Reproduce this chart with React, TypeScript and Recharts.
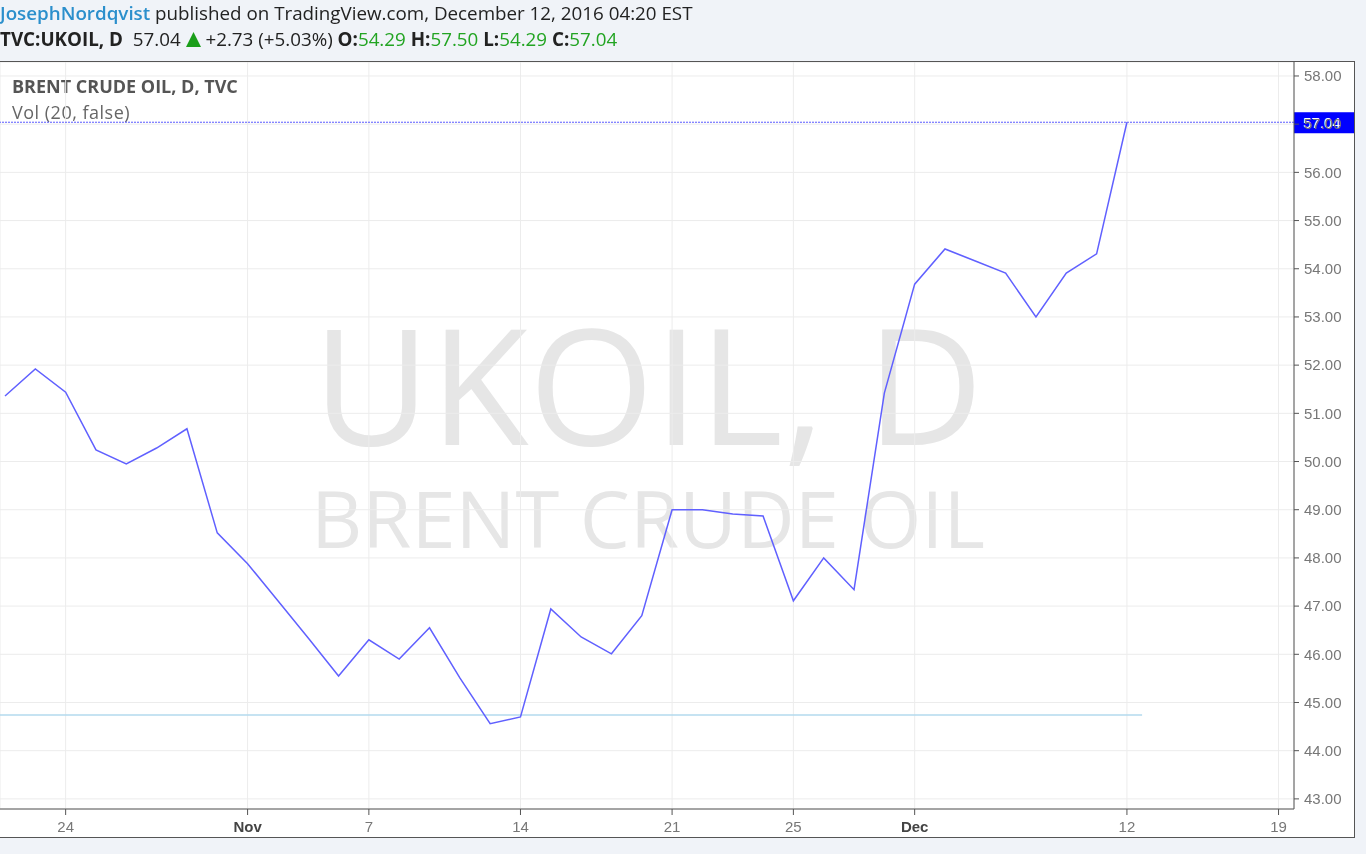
import { LineChart, Line, XAxis, YAxis, CartesianGrid, ReferenceLine } from "recharts";

// trading sessions shown on the axis (last five are empty future days)
const sessions = [
  "Oct 20", "Oct 21", "Oct 24", "Oct 25", "Oct 26", "Oct 27", "Oct 28", "Oct 31",
  "Nov 1", "Nov 2", "Nov 3", "Nov 4", "Nov 7", "Nov 8", "Nov 9", "Nov 10", "Nov 11",
  "Nov 14", "Nov 15", "Nov 16", "Nov 17", "Nov 18", "Nov 21", "Nov 22", "Nov 23", "Nov 24", "Nov 25",
  "Nov 28", "Nov 29", "Nov 30", "Dec 1", "Dec 2", "Dec 5", "Dec 6", "Dec 7", "Dec 8", "Dec 9",
  "Dec 12", "Dec 13", "Dec 14", "Dec 15", "Dec 16", "Dec 19",
];

// daily close, UKOIL
const closes = [
  51.36, 51.92, 51.44, 50.24, 49.95, 50.28, 50.68, 48.52,
  47.88, 47.11, 46.34, 45.55, 46.3, 45.9, 46.55, 45.51, 44.56,
  44.7, 46.94, 46.36, 46.01, 46.8, 49.0, 49.0, 48.91, 48.87, 47.11,
  48.0, 47.34, 51.42, 53.68, 54.41, 54.16, 53.91, 53.0, 53.91, 54.31,
  57.04,
];

const xTickSessions = ["Oct 24", "Nov 1", "Nov 7", "Nov 14", "Nov 21", "Nov 25", "Dec 1", "Dec 12", "Dec 19"];
const xTickLabels = ["24", "Nov", "7", "14", "21", "25", "Dec", "12", "19"];

const yTicks = [43, 44, 45, 46, 47, 48, 49, 50, 51, 52, 53, 54, 55, 56, 57, 58];

const lastPrice = 57.04;
const supportLevel = 44.74;

const data = closes.map((close, i) => ({ i, close }));
const xTickIdx = xTickSessions.map((s) => sessions.indexOf(s));
const lastIdx = closes.length - 1;

const axisFont = "'Liberation Sans', Arial, sans-serif";
const green = "#22a422";

function XTick({ x, y, payload }: any) {
  const k = xTickIdx.indexOf(payload.value);
  const label = xTickLabels[k] ?? "";
  const month = label === "Nov" || label === "Dec";
  return (
    <text x={x} y={y} dy="0.71em" textAnchor="middle" fontFamily={axisFont} fontSize={15}
      fill={month ? "#444" : "#777"} fontWeight={month ? 700 : 400}>
      {label}
    </text>
  );
}

function PriceTag({ viewBox }: any) {
  const x = viewBox.x + viewBox.width;
  const y = viewBox.y;
  return (
    <g>
      <rect x={x} y={y - 10} width={60} height={21} fill="#0000ff" />
      <text x={x + 9} y={y} dy="0.36em" fontFamily={axisFont} fontSize={15} fill="#fff">
        {lastPrice.toFixed(2)}
      </text>
    </g>
  );
}

export default function App() {
  return (
    <div style={{ position: "fixed", left: 0, top: 0, width: 1366, height: 854, background: "#f0f3f8", fontFamily: "'Open Sans', sans-serif" }}>

      {/* header */}
      <div style={{ position: "absolute", left: 0, top: 0, fontSize: 18.8, color: "#222", whiteSpace: "nowrap" }}>
        <span style={{ color: "#2b8fcc", fontWeight: 600 }}>JosephNordqvist</span> published on TradingView.com, December 12, 2016 04:20 EST
      </div>
      <div style={{ position: "absolute", left: 0, top: 26, fontSize: 18.8, color: "#222", whiteSpace: "nowrap" }}>
        <b>TVC:UKOIL, D</b>&nbsp; 57.04{" "}
        <svg width={15} height={15} style={{ verticalAlign: "-1px" }}>
          <polygon points="7.5,0 15,15 0,15" fill="#1a9e1a" />
        </svg>{" "}
        +2.73 (+5.03%)&nbsp;
        <b>O:</b><span style={{ color: green }}>54.29</span> <b>H:</b><span style={{ color: green }}>57.50</span>{" "}
        <b>L:</b><span style={{ color: green }}>54.29</span> <b>C:</b><span style={{ color: green }}>57.04</span>
      </div>

      {/* chart panel */}
      <div style={{ position: "absolute", left: 0, top: 61, width: 1354, height: 775, background: "#fff",
        borderTop: "1px solid #555", borderRight: "1px solid #555", borderBottom: "1px solid #555" }}>

        {/* watermark */}
        <svg width={1294} height={747} style={{ position: "absolute", left: 0, top: 0 }}>
          <text x={648} y={383} textAnchor="middle" fontFamily="'Open Sans', sans-serif" fontSize={161} fill="#e6e6e6">
            UKOIL, D
          </text>
          <text x={648} y={486} textAnchor="middle" fontFamily="'Open Sans', sans-serif" fontSize={79.5} fill="#e6e6e6">
            BRENT CRUDE OIL
          </text>
        </svg>

        <div style={{ position: "absolute", left: 12, top: 12, fontSize: 18, fontWeight: 700, color: "#555" }}>
          BRENT CRUDE OIL, D, TVC
        </div>
        <div style={{ position: "absolute", left: 12, top: 38, fontSize: 18, color: "#666", letterSpacing: 0.5 }}>
          Vol (20, false)
        </div>

        <div style={{ position: "absolute", left: 0, top: 0 }}>
          <LineChart width={1354} height={775} data={data} margin={{ top: 0, right: 0, bottom: 0, left: 0 }}>
            <CartesianGrid stroke="#ececec" />
            <XAxis dataKey="i" type="number" domain={[-0.165, 42.51]} allowDataOverflow ticks={xTickIdx}
              height={28} tickSize={6} tickMargin={6} tick={<XTick />}
              axisLine={{ stroke: "#555" }} tickLine={{ stroke: "#555" }} />
            <YAxis orientation="right" type="number" domain={[42.79, 58.29]} allowDataOverflow ticks={yTicks}
              width={60} tickSize={5} tickMargin={5}
              tickFormatter={(v: number) => v.toFixed(2)}
              tick={{ fill: "#777", fontSize: 15, fontFamily: axisFont, textAnchor: "start" }}
              axisLine={{ stroke: "#555" }} tickLine={{ stroke: "#555" }} />
            <ReferenceLine y={lastPrice} stroke="#5a5aff" strokeDasharray="2 1" label={<PriceTag />} />
            <ReferenceLine segment={[{ x: -0.165, y: supportLevel }, { x: lastIdx + 0.5, y: supportLevel }]}
              stroke="#b3daee" strokeWidth={1.5} ifOverflow="visible" />
            <Line type="linear" dataKey="close" stroke="#6060ff" strokeWidth={1.5} dot={false} isAnimationActive={false} />
          </LineChart>
        </div>
      </div>
    </div>
  );
}
